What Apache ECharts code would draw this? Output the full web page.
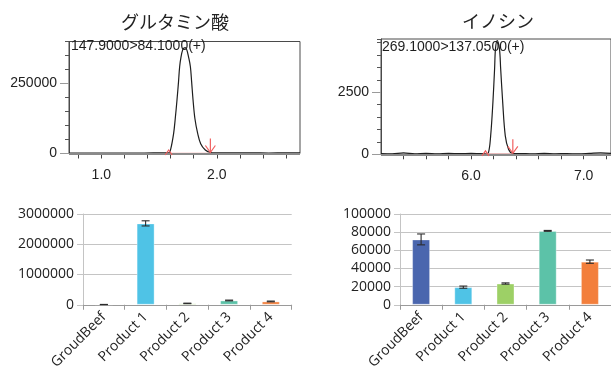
<!DOCTYPE html>
<html>
<head>
<meta charset="utf-8">
<script src="https://cdn.jsdelivr.net/npm/echarts@6/dist/echarts.min.js"></script>
<style>
  html, body { margin: 0; padding: 0; background: #fff; }
  #chart { width: 611px; height: 372px; }
</style>
</head>
<body>
<div id="chart"></div>
<script>
// Glutamic acid MRM trace 147.9 > 84.1 (retention time in min, intensity)
const gluTime = [0.72, 0.85, 1.00, 1.15, 1.30, 1.45, 1.55, 1.583, 1.60, 1.626, 1.64, 1.655, 1.668, 1.678, 1.69, 1.704,
                 1.716, 1.727, 1.74, 1.755, 1.771, 1.782, 1.794, 1.81, 1.834, 1.86, 1.90, 1.944, 2.00, 2.15, 2.30, 2.45, 2.60, 2.72];
const gluIntensity = [1500, 1200, 1500, 1800, 1500, 2000, 2200, 2500, 15000, 72000, 125000, 191000, 255000, 310000, 345000, 370000,
                      377000, 378000, 370000, 345000, 310000, 255000, 191000, 125000, 72000, 35000, 12500, 3500, 2500, 2000, 2200, 1800, 2500, 2000];
const gluPeakBounds = [1.583, 1.944];

// Inosine MRM trace 269.1 > 137.05
const inoTime = [5.20, 5.30, 5.40, 5.50, 5.60, 5.70, 5.80, 5.90, 6.00, 6.08, 6.128, 6.154, 6.174, 6.194, 6.209, 6.217,
                 6.232, 6.252, 6.263, 6.281, 6.304, 6.333, 6.368, 6.45, 6.55, 6.65, 6.75, 6.85, 6.95, 7.05, 7.15, 7.243];
const inoIntensity = [30, 20, 60, 20, 40, 15, 35, 25, 40, 25, 20, 60, 743, 2094, 3449, 4260,
                      4590, 4260, 3449, 2094, 743, 200, 40, 30, 15, 40, 20, 30, 15, 35, 60, 40];
const inoPeakBounds = [6.128, 6.371];

// Peak areas per sample (mean and error)
const samples = ['GroudBeef', 'Product 1', 'Product 2', 'Product 3', 'Product 4'];
const gluArea = [8000, 2690000, 45000, 142000, 110000];
const gluAreaErr = [3000, 85000, 8000, 12000, 12000];
const inoArea = [72000, 19400, 23400, 81400, 47500];
const inoAreaErr = [6000, 1200, 700, 500, 1800];

// Axis ticks
const gluTimeTicks = [0.8, 1.0, 1.2, 1.4, 1.6, 1.8, 2.0, 2.2, 2.4, 2.6];
const gluTimeLabels = [1.0, 2.0];
const gluIntLabels = [0, 250000];
const inoTimeTicks = [5.4, 5.6, 5.8, 6.0, 6.2, 6.4, 6.6, 6.8, 7.0, 7.2];
const inoTimeLabels = [6.0, 7.0];
const inoIntLabels = [0, 2500];

const barColors = ['#4a66ae', '#4fc3e6', '#9dd066', '#5cc2a8', '#f37f3c'];
const traceFont = 'Liberation Sans';
const barFont = 'Open Sans';

function zip(a, b) { return a.map((v, i) => [v, b[i]]); }
const plain = v => String(v);

function traceSeries(xi, yi, time, intensity, bounds) {
  return [
    {
      type: 'line', xAxisIndex: xi, yAxisIndex: yi,
      data: zip(time, intensity), smooth: 0.35, showSymbol: false,
      lineStyle: { color: '#1e1e1e', width: 1.2 }, z: 3,
      markLine: {
        silent: true, symbol: 'none', label: { show: false },
        lineStyle: { color: '#8a8a8a', width: 2, type: 'solid' },
        data: [{ yAxis: 0 }]
      }
    },
    {
      type: 'line', xAxisIndex: xi, yAxisIndex: yi,
      data: bounds.map(t => [t, 0]), showSymbol: false,
      lineStyle: { color: '#f29a9a', width: 1.5 }, z: 4
    },
    {
      type: 'custom', xAxisIndex: xi, yAxisIndex: yi, z: 5,
      data: bounds.map(t => [t, 0]),
      renderItem: function (params, api) {
        const p = api.coord([api.value(0), api.value(1)]);
        const x = p[0], y = p[1];
        const style = { stroke: '#f06060', lineWidth: 1.2, fill: null };
        if (params.dataIndex === 0) {
          return { type: 'polyline', shape: { points: [[x - 3.5, y + 1.5], [x, y - 3.5], [x + 3.5, y + 1.5]] }, style: style };
        }
        return {
          type: 'group', children: [
            { type: 'line', shape: { x1: x, y1: y - 15, x2: x, y2: y - 1 }, style: style },
            { type: 'polyline', shape: { points: [[x - 5, y - 8], [x, y - 1], [x + 5, y - 8]] }, style: style }
          ]
        };
      }
    }
  ];
}

function barSeries(xi, yi, values, errs) {
  return [
    {
      type: 'bar', xAxisIndex: xi, yAxisIndex: yi, barWidth: 18,
      data: values.map((v, i) => ({ value: v, itemStyle: { color: barColors[i] } })),
      itemStyle: { borderColor: 'rgba(255,255,255,0.35)', borderWidth: 1 }
    },
    {
      type: 'custom', xAxisIndex: xi, yAxisIndex: yi, z: 5,
      data: values.map((v, i) => [i, v - errs[i], v + errs[i]]),
      renderItem: function (params, api) {
        const lo = api.coord([api.value(0), api.value(1)]);
        const hi = api.coord([api.value(0), api.value(2)]);
        const x = lo[0], w = 4;
        const style = { stroke: '#2b2b2b', lineWidth: 1.1 };
        return {
          type: 'group', children: [
            { type: 'line', shape: { x1: x, y1: lo[1], x2: x, y2: hi[1] }, style: style },
            { type: 'line', shape: { x1: x - w, y1: lo[1], x2: x + w, y2: lo[1] }, style: style },
            { type: 'line', shape: { x1: x - w, y1: hi[1], x2: x + w, y2: hi[1] }, style: style }
          ]
        };
      }
    }
  ];
}

function timeAxis(gi, min, max, ticks, labels) {
  return {
    type: 'value', gridIndex: gi, min: min, max: max, offset: 3,
    axisLine: { show: false },
    axisTick: { show: true, customValues: ticks, length: 5, lineStyle: { color: '#444', width: 1 } },
    axisLabel: { customValues: labels, formatter: v => v.toFixed(1), margin: 12,
                 fontSize: 14, fontFamily: traceFont, color: '#222' },
    splitLine: { show: false }
  };
}

function intensityAxes(gi, max, minorStep, labels) {
  return [
    {
      type: 'value', gridIndex: gi, position: 'left', min: 0, max: max, interval: minorStep,
      axisLine: { show: true, lineStyle: { color: '#4a4a4a', width: 1 } },
      axisTick: { show: true, length: 4, lineStyle: { color: '#555', width: 1 } },
      axisLabel: { show: false },
      splitLine: { show: false }
    },
    {
      type: 'value', gridIndex: gi, position: 'left', min: 0, max: max,
      axisLine: { show: false },
      axisTick: { show: true, customValues: labels, length: 9, lineStyle: { color: '#9a9a9a' } },
      axisLabel: { customValues: labels, formatter: plain, margin: 12, fontSize: 14, fontFamily: traceFont, color: '#222' },
      splitLine: { show: false }
    }
  ];
}

function sampleAxis(gi) {
  return {
    type: 'category', gridIndex: gi, data: samples, boundaryGap: true,
    axisLine: { show: true, lineStyle: { color: '#9a9a9a', width: 1 } },
    axisTick: { show: true, alignWithLabel: false, length: 5, lineStyle: { color: '#9a9a9a' } },
    axisLabel: { interval: 0, rotate: 45, margin: 10, fontSize: 14, fontFamily: barFont, color: '#222' }
  };
}

function areaAxis(gi, max, step) {
  return {
    type: 'value', gridIndex: gi, min: 0, max: max, interval: step,
    axisLine: { show: true, lineStyle: { color: '#c4c4c4' } },
    axisTick: { show: true, length: 6, lineStyle: { color: '#c4c4c4' } },
    axisLabel: { formatter: plain, margin: 9, fontSize: 14, fontFamily: barFont, color: '#222' },
    splitLine: { show: true, lineStyle: { color: '#c4c4c4', width: 1 } }
  };
}

const chart = echarts.init(document.getElementById('chart'), null, { renderer: 'canvas' });

chart.setOption({
  animation: false,
  backgroundColor: '#fff',
  grid: [
    { left: 69, top: 41.5, width: 231, height: 112, show: true, borderColor: '#4a4a4a', borderWidth: 1 },
    { left: 381, top: 39, right: -5, height: 115.3, show: true, borderColor: '#4a4a4a', borderWidth: 1 },
    { left: 83, top: 214, width: 208.7, height: 92.7 },
    { left: 400, top: 214, width: 216.7, height: 92.7 }
  ],
  xAxis: [
    timeAxis(0, 0.72, 2.72, gluTimeTicks, gluTimeLabels),
    timeAxis(1, 5.2, 7.243, inoTimeTicks, inoTimeLabels),
    sampleAxis(2),
    sampleAxis(3)
  ],
  yAxis: [
    ...intensityAxes(0, 400000, 50000, gluIntLabels),
    ...intensityAxes(1, 4650, 500, inoIntLabels),
    areaAxis(2, 3000000, 1000000),
    areaAxis(3, 100000, 20000)
  ],
  graphic: [
    { type: 'text', x: 175, y: 22, style: { text: 'グルタミン酸', fontSize: 18, fontFamily: 'Noto Sans CJK JP', fill: '#222', align: 'center', verticalAlign: 'middle' } },
    { type: 'text', x: 498, y: 21, style: { text: 'イノシン', fontSize: 18, fontFamily: 'Noto Sans CJK JP', fill: '#222', align: 'center', verticalAlign: 'middle' } },
    { type: 'text', x: 71, y: 46, z: 10, style: { text: '147.9000>84.1000(+)', fontSize: 14, fontFamily: traceFont, fill: '#1e1e1e', align: 'left', verticalAlign: 'middle' } },
    { type: 'text', x: 382, y: 47, z: 10, style: { text: '269.1000>137.0500(+)', fontSize: 14, fontFamily: traceFont, fill: '#1e1e1e', align: 'left', verticalAlign: 'middle' } }
  ],
  series: [
    ...traceSeries(0, 0, gluTime, gluIntensity, gluPeakBounds),
    ...traceSeries(1, 2, inoTime, inoIntensity, inoPeakBounds),
    ...barSeries(2, 4, gluArea, gluAreaErr),
    ...barSeries(3, 5, inoArea, inoAreaErr)
  ]
});
</script>
</body>
</html>
